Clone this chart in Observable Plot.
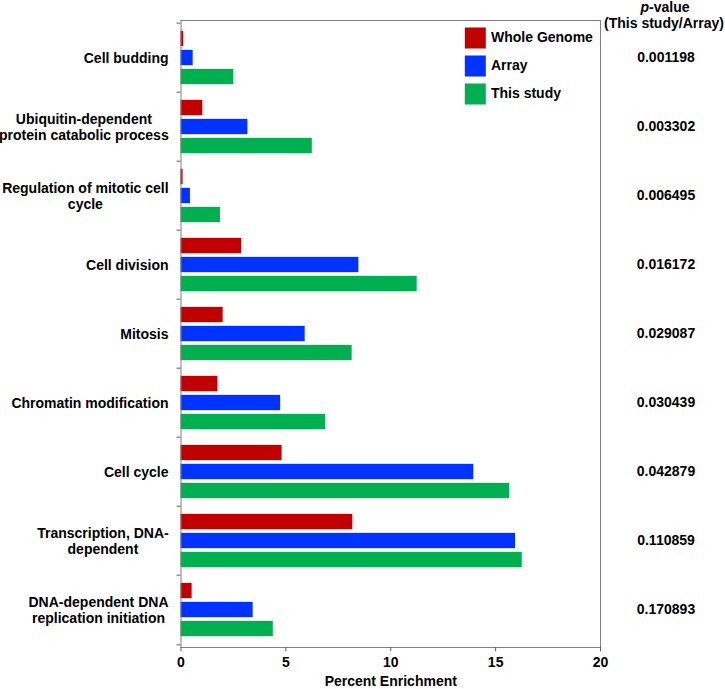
<!DOCTYPE html>
<html><head><meta charset="utf-8">
<script src="https://cdn.jsdelivr.net/npm/d3@7"></script>
<script src="https://cdn.jsdelivr.net/npm/@observablehq/plot@0.6"></script>
<style>body{margin:0;background:#fff}#chart{width:725px;height:689px}</style>
</head><body><div id="chart"></div>
<script>
const categories = [
  "Cell budding",
  "Ubiquitin-dependent\nprotein catabolic process",
  "Regulation of mitotic cell\ncycle",
  "Cell division",
  "Mitosis",
  "Chromatin modification",
  "Cell cycle",
  "Transcription, DNA-\ndependent",
  "DNA-dependent DNA\nreplication initiation"
];
const wholeGenome = [0.13, 1.04, 0.10, 2.89, 2.01, 1.76, 4.82, 8.19, 0.53];
const arrayValues = [0.58, 3.19, 0.45, 8.48, 5.92, 4.75, 13.96, 15.95, 3.44];
const thisStudy   = [2.52, 6.26, 1.88, 11.26, 8.16, 6.89, 15.67, 16.27, 4.40];
const pValues = ["0.001198", "0.003302", "0.006495", "0.016172", "0.029087", "0.030439", "0.042879", "0.110859", "0.170893"];
const seriesNames = ["Whole Genome", "Array", "This study"];
const seriesColors = ["#C00000", "#0033FF", "#00B050"];
const xTicks = [0, 5, 10, 15, 20];

const W = 725, H = 689;
const mTop = 20, mBottom = 42, mLeft = 180.5, mRight = 125;
const band = (H - mTop - mBottom) / categories.length;
const barH = 16, barStep = 19;
const inset = (band - barH) / 2;

const seriesValues = [wholeGenome, arrayValues, thisStudy];
const barMarks = seriesValues.map((vals, j) =>
  Plot.barX(categories.map((c, i) => ({category: c, value: vals[i]})), {
    y: "category", x: "value", fill: seriesColors[j],
    insetTop: inset, insetBottom: inset, dy: (j - 1) * barStep
  })
);

const legendMarks = seriesNames.flatMap((name, i) => [
  Plot.dot([name], {frameAnchor: "top-right", dx: -125.2, dy: 17.5 + 28 * i,
    symbol: "square", r: 11.85, fill: seriesColors[i], stroke: null}),
  Plot.text([name], {frameAnchor: "top-right", dx: -109.5, dy: 17.5 + 28 * i,
    text: d => d, textAnchor: "start", lineAnchor: "middle", fill: "black"})
]);

const chart = Plot.plot({
  width: W, height: H,
  marginTop: mTop, marginBottom: mBottom, marginLeft: mLeft, marginRight: mRight,
  style: {fontFamily: "'Liberation Sans', Arial, sans-serif", fontSize: "14px", fontWeight: "bold", color: "black", background: "white"},
  x: {domain: [0, 20], ticks: xTicks},
  y: {domain: categories, padding: 0},
  marks: [
    ...barMarks,
    Plot.frame({stroke: "#808080"}),
    Plot.axisX({ticks: xTicks, tickSize: 4, tickPadding: 6, label: null, stroke: "#606060", fill: "black"}),
    Plot.axisY({tickSize: 0, tickPadding: 12.5, label: null, lineHeight: 1.15, fill: "black"}),
    Plot.axisY({tickSize: 4, fill: "none", label: null, stroke: "#606060", dy: -band / 2}),
    Plot.axisY({ticks: [categories[categories.length - 1]], tickSize: 4, fill: "none", label: null, stroke: "#606060", dy: band / 2}),
    Plot.text(pValues, {y: categories, text: d => d, frameAnchor: "right", dx: 65.5, textAnchor: "middle", lineAnchor: "middle", fill: "black"}),
    Plot.text(["p-value"], {frameAnchor: "top-right", dx: 64.5, dy: -12.5, text: d => d, textAnchor: "middle", lineAnchor: "middle", fill: "black"}),
    Plot.text(["(This study/Array)"], {frameAnchor: "top-right", dx: 63.5, dy: 3.5, text: d => d, textAnchor: "middle", lineAnchor: "middle", fill: "black"}),
    Plot.text(["Percent Enrichment"], {frameAnchor: "bottom", dy: 34.5, text: d => d, textAnchor: "middle", lineAnchor: "middle", fill: "black"}),
    ...legendMarks
  ]
});
document.getElementById("chart").appendChild(chart);

// center multi-line category labels relative to each other, block right-aligned
chart.querySelectorAll("text").forEach(t => {
  const spans = t.querySelectorAll("tspan");
  if (spans.length > 1 && categories.some(c => c.replace("\n", "") === t.textContent)) {
    const bb = t.getBBox();
    const cx = bb.x + bb.width / 2;
    t.setAttribute("text-anchor", "middle");
    spans.forEach(s => s.setAttribute("x", cx));
  }
  if (t.textContent === "p-value" && spans.length === 0) {
    t.textContent = "";
    const ns = "http://www.w3.org/2000/svg";
    const a = document.createElementNS(ns, "tspan");
    a.setAttribute("font-style", "italic");
    a.textContent = "p";
    const b = document.createElementNS(ns, "tspan");
    b.textContent = "-value";
    t.appendChild(a); t.appendChild(b);
  }
});
</script>
</body></html>
